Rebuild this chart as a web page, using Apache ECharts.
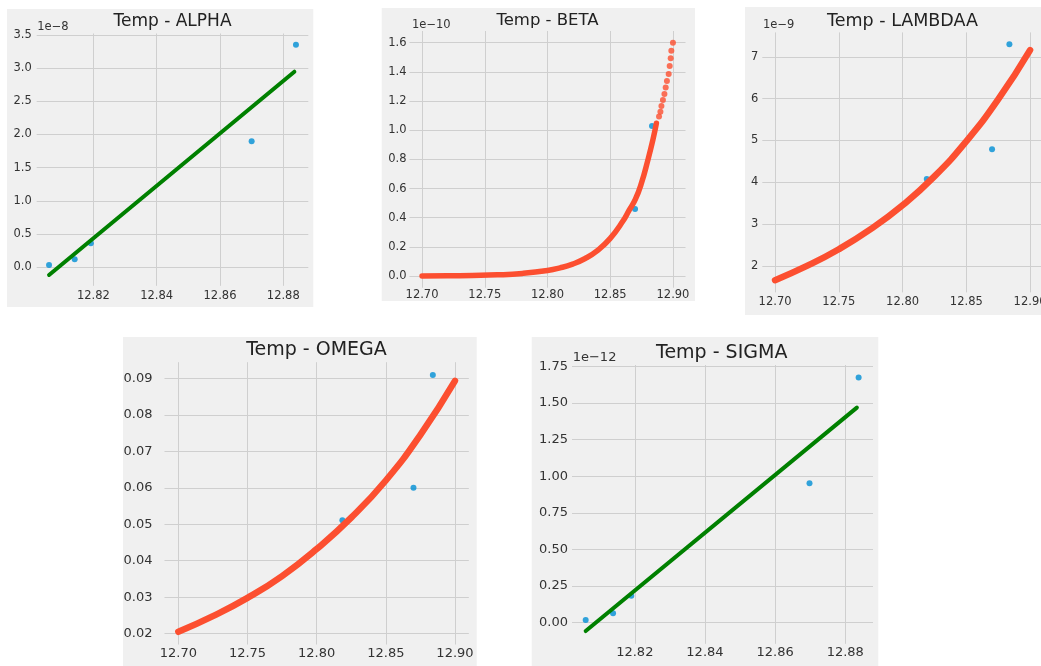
<!DOCTYPE html>
<html><head><meta charset="utf-8">
<script src="https://cdn.jsdelivr.net/npm/echarts@6/dist/echarts.min.js"></script>
<style>html,body{margin:0;padding:0;background:#fff}#c{width:1041px;height:666px}</style>
</head><body><div id="c"></div><script>
// ---- data ----
// observed points (temperature)
const alphaObsTemp = [12.806, 12.8141, 12.8192, 12.870, 12.884];
const alphaObs = [0.035, 0.12, 0.36, 1.90, 3.35];           // x 1e-8
const alphaFitTemp = [12.806, 12.8835];
const alphaFit = [-0.116, 2.946];

const sigmaObsTemp = [12.806, 12.8138, 12.819, 12.8698, 12.8838];
const sigmaObs = [0.018, 0.064, 0.184, 0.952, 1.674];       // x 1e-12
const sigmaFitTemp = [12.806, 12.8833];
const sigmaFit = [-0.057, 1.469];

const betaObsTemp = [12.8698, 12.8833];
const betaObs = [0.46, 1.029];                               // x 1e-10
const betaCurveTemp = [12.70, 12.72, 12.74, 12.76, 12.78, 12.80, 12.81, 12.82, 12.83, 12.84, 12.85, 12.86, 12.865, 12.87, 12.875, 12.88, 12.884, 12.8868];
const betaCurve = [0.001, 0.002, 0.004, 0.008, 0.018, 0.038, 0.056, 0.082, 0.120, 0.176, 0.258, 0.375, 0.45, 0.525, 0.64, 0.795, 0.933, 1.047];
const betaBeadTemp = [12.8889, 12.8900, 12.8908, 12.8920, 12.8932, 12.8942, 12.8952, 12.8966, 12.8974, 12.8982, 12.8987, 12.9000];
const betaBead = [1.093, 1.127, 1.166, 1.207, 1.248, 1.292, 1.337, 1.385, 1.440, 1.493, 1.545, 1.600];

const curveTemp = [12.70, 12.725, 12.75, 12.775, 12.80, 12.825, 12.85, 12.875, 12.90];
const lambdaObsTemp = [12.819, 12.8702, 12.8838];
const lambdaObs = [4.08, 4.79, 7.30];                        // x 1e-9
const lambdaCurve = [1.66, 2.00, 2.40, 2.88, 3.45, 4.14, 4.98, 5.98, 7.16];

const omegaObsTemp = [12.8186, 12.870, 12.884];
const omegaObs = [0.0511, 0.0600, 0.0909];
const omegaCurve = [0.0205, 0.0248, 0.0298, 0.0358, 0.0432, 0.0518, 0.0620, 0.0745, 0.0893];

const panelTitles = ['Temp - ALPHA', 'Temp - BETA', 'Temp - LAMBDAA', 'Temp - OMEGA', 'Temp - SIGMA'];
const offsetTexts = ['1e\u22128', '1e\u221210', '1e\u22129', '', '1e\u221212'];

// ---- styling / layout ----
const BG = '#f0f0f0', GRID = '#cfcfcf', TXT = '#333', BLUE = '#008fd5', RED = '#fc4f30', GREEN = '#008000';
const FONT = 'DejaVu Sans';
const pair = (xs, ys) => xs.map((x, i) => [x, ys[i]]);

const grids = [
  {left: 36.7, top: 33.5, width: 271.6, height: 252.3},
  {left: 409.5, top: 31, width: 276, height: 256.7},
  {left: 762.3, top: 32.4, width: 280.5, height: 260},
  {left: 164.5, top: 362.2, width: 304.3, height: 282.3},
  {left: 572, top: 365, width: 301, height: 278.8}
].map(g => Object.assign({show: false, containLabel: false, outerBoundsMode: 'none'}, g));

function ax(i, min, max, interval, fs, margin, dec) {
  return {
    type: 'value', gridIndex: i, min, max, minInterval: interval, maxInterval: interval,
    splitNumber: Math.round((max - min) / interval),
    axisLine: {show: false}, axisTick: {show: false},
    splitLine: {show: true, showMinLine: false, showMaxLine: false, lineStyle: {color: GRID, width: 1}},
    axisLabel: {fontSize: fs, color: TXT, fontFamily: FONT, margin, showMinLabel: false, showMaxLabel: false,
      formatter: v => v.toFixed(dec)}
  };
}

const xAxis = [
  ax(0, 12.8021, 12.8879, 0.02, 11.5, 4.5, 2),
  ax(1, 12.69, 12.91, 0.05, 11.5, 1.5, 2),
  ax(2, 12.69, 12.91, 0.05, 11.5, 4, 2),
  ax(3, 12.69, 12.91, 0.05, 13, 3, 2),
  ax(4, 12.8021, 12.8879, 0.02, 13, 2.5, 2)
];
const yAxis = [
  ax(0, -0.279, 3.521, 0.5, 11.5, 5, 1),
  ax(1, -0.08, 1.68, 0.2, 11.5, 3, 1),
  ax(2, 1.3675, 7.5825, 1, 11.5, 4, 0),
  ax(3, 0.01703, 0.09442, 0.01, 13, 12, 2),
  ax(4, -0.144, 1.76, 0.25, 13, 4, 2)
];

function blue(i, xs, ys) {
  return {type: 'scatter', xAxisIndex: i, yAxisIndex: i, data: pair(xs, ys), symbolSize: 6,
    itemStyle: {color: BLUE}, z: 2, silent: true};
}
function line(i, xs, ys, color, width, smooth) {
  return {type: 'line', xAxisIndex: i, yAxisIndex: i, data: pair(xs, ys), showSymbol: false, symbol: 'none',
    smooth: smooth ? 0.5 : false,
    lineStyle: {color, width, cap: 'round', join: 'round'}, z: 3, silent: true};
}

const series = [
  blue(0, alphaObsTemp, alphaObs),
  line(0, alphaFitTemp, alphaFit, GREEN, 4, false),
  blue(1, betaObsTemp, betaObs),
  line(1, betaCurveTemp, betaCurve, RED, 5.5, true),
  {type: 'scatter', xAxisIndex: 1, yAxisIndex: 1, data: pair(betaBeadTemp, betaBead), symbolSize: 6,
    itemStyle: {color: RED}, z: 3, silent: true},
  blue(2, lambdaObsTemp, lambdaObs),
  line(2, curveTemp, lambdaCurve, RED, 6.5, true),
  blue(3, omegaObsTemp, omegaObs),
  line(3, curveTemp, omegaCurve, RED, 6.5, true),
  blue(4, sigmaObsTemp, sigmaObs),
  line(4, sigmaFitTemp, sigmaFit, GREEN, 4, false)
];

// panel backgrounds and texts
const panels = [
  {x: 7, y: 9, w: 306.3, h: 298},
  {x: 381.7, y: 8, w: 313.3, h: 293},
  {x: 745, y: 7, w: 300, h: 308},
  {x: 123, y: 337, w: 353.7, h: 330},
  {x: 531.7, y: 337, w: 346.6, h: 330}
];
const titlePos = [[172.5, 21.7, 17], [547.5, 20.5, 16.5], [902.5, 21.7, 17.5], [316.5, 350, 19], [721.7, 353.3, 19]];
const offsetPos = [[37.3, 26.7, 11.5], [412, 25, 11.5], [763, 25, 11.5], [0, 0, 13], [572.7, 357.3, 13]];

const graphic = [];
panels.forEach(p => graphic.push({type: 'rect', shape: {x: p.x, y: p.y, width: p.w, height: p.h},
  style: {fill: BG}, z: -100, silent: true}));
panelTitles.forEach((t, i) => {
  const [x, y, fs] = titlePos[i];
  graphic.push({type: 'text', x, y, z: 10, silent: true,
    style: {text: t, fill: '#222', font: fs + 'px "' + FONT + '"', textAlign: 'center', textVerticalAlign: 'middle',
      align: 'center', verticalAlign: 'middle'}});
});
offsetTexts.forEach((t, i) => {
  if (!t) return;
  const [x, y, fs] = offsetPos[i];
  graphic.push({type: 'text', x, y, z: 10, silent: true,
    style: {text: t, fill: TXT, font: fs + 'px "' + FONT + '"', textAlign: 'left', textVerticalAlign: 'middle',
      align: 'left', verticalAlign: 'middle'}});
});

const chart = echarts.init(document.getElementById('c'), null, {renderer: 'canvas', width: 1041, height: 666});
chart.setOption({
  backgroundColor: '#ffffff',
  animation: false,
  textStyle: {fontFamily: FONT},
  grid: grids, xAxis, yAxis, series, graphic
});
</script></body></html>
